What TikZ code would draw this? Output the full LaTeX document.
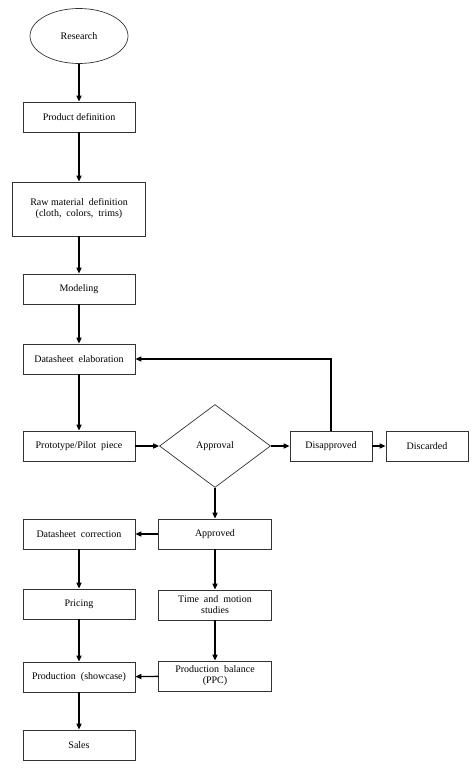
\documentclass[tikz,border=0pt]{standalone}
\usepackage{fontspec}
\setmainfont{Liberation Serif}
\usetikzlibrary{shapes.geometric,arrows.meta}
\begin{document}
\begin{tikzpicture}[x=1pt,y=-1pt,
  box/.style={draw=black!80,line width=0.7pt,rectangle,minimum height=30pt,inner sep=1pt,align=center,font=\fontsize{10}{11}\selectfont},
  wbox/.style={box,minimum width=112pt},
  sbox/.style={box,minimum width=82pt},
  conn/.style={line width=1.4pt,-{Triangle[length=6pt,width=5pt]}}]
\useasboundingbox (0,0) rectangle (474,768);
\node[draw=black!80,line width=0.7pt,ellipse,minimum width=98pt,minimum height=55pt,font=\fontsize{10}{11}\selectfont] (res) at (79,36) {Research};
\node[wbox] (pd) at (79,117) {Product definition};
\node[box,minimum width=133pt,minimum height=54pt] (raw) at (79,209) {Raw material \ definition\\(cloth, \ colors, \ trims)};
\node[wbox] (mod) at (79,289) {Modeling};
\node[wbox] (de) at (79,359) {Datasheet \ elaboration};
\node[wbox] (proto) at (79,446) {Prototype/Pilot \ piece};
\node[draw=black!80,line width=0.7pt,diamond,minimum width=111pt,minimum height=83pt,inner sep=0pt,aspect=1.34,font=\fontsize{10}{11}\selectfont] (appr) at (215,446) {Approval};
\node[sbox] (dis) at (331,446) {Disapproved};
\node[sbox] (disc) at (427,446) {Discarded};
\node[box,minimum width=113pt] (ok) at (215,534) {Approved};
\node[wbox] (dc) at (79,534) {Datasheet \ correction};
\node[wbox] (pr) at (79,604) {Pricing};
\node[box,minimum width=113pt] (tm) at (215,605) {Time \ and \ motion\\studies};
\node[wbox] (ps) at (79,677) {Production \ (showcase)};
\node[box,minimum width=113pt] (pb) at (215,676) {Production \ balance\\(PPC)};
\node[wbox] (sa) at (79,745) {Sales};
\draw[conn] (res) -- (pd);
\draw[conn] (pd) -- (raw);
\draw[conn] (raw) -- (mod);
\draw[conn] (mod) -- (de);
\draw[conn] (de) -- (proto);
\draw[conn] (proto) -- (appr);
\draw[conn] (appr) -- (dis);
\draw[conn] (dis) -- (disc);
\draw[conn] (dis.north) |- (de.east);
\draw[conn] (appr) -- (ok);
\draw[conn] (ok) -- (dc);
\draw[conn] (dc) -- (pr);
\draw[conn] (ok) -- (tm);
\draw[conn] (pr) -- (ps);
\draw[conn] (tm) -- (pb);
\draw[conn] (pb) -- (ps);
\draw[conn] (ps) -- (sa);
\end{tikzpicture}
\end{document}
